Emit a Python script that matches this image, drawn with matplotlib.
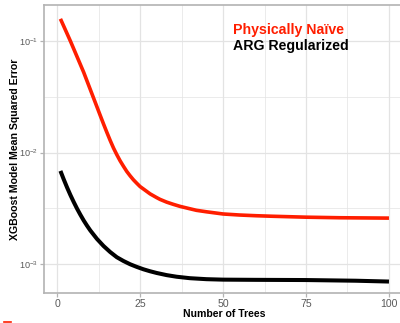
import matplotlib
matplotlib.use('Agg')
import matplotlib.pyplot as plt
from matplotlib.ticker import FixedLocator, NullFormatter
from matplotlib.lines import Line2D

# ---- data ----
naive_trees = [1, 2, 4, 6, 8, 10, 12, 13, 14, 15, 16, 17, 18, 19, 20, 21, 22, 23, 24, 25, 26, 28, 30, 31,
               33, 35, 37, 40, 42, 45, 50, 55, 60, 65, 75, 85, 100]
naive_mse = [0.1581, 0.1358, 0.1000, 0.07244, 0.05248, 0.03673, 0.02570, 0.02148, 0.01799, 0.01514,
             0.01282, 0.01096, 0.00955, 0.00841, 0.00752, 0.00676, 0.00618, 0.00569, 0.00530, 0.00495,
             0.00471, 0.00426, 0.00394, 0.00380, 0.00359, 0.00343, 0.00329, 0.00313, 0.00303, 0.00294,
             0.00281, 0.00275, 0.00271, 0.00268, 0.00263, 0.00260, 0.00258]

arg_trees = [1, 2, 3, 4, 5, 6, 7, 8, 9, 10, 12, 14, 16, 18, 20, 22, 24, 26, 28, 30, 33, 36, 40, 45,
             50, 60, 75, 90, 100]
arg_mse = [0.00684, 0.00574, 0.00486, 0.00416, 0.00360, 0.00314, 0.00277, 0.00246, 0.00221, 0.00200,
           0.00168, 0.00145, 0.00128, 0.00115, 0.001064, 0.000995, 0.000942, 0.000897, 0.000861,
           0.000831, 0.000795, 0.000769, 0.000746, 0.000731, 0.000724, 0.000721, 0.000718, 0.000708,
           0.000696]

x_ticks = [0, 25, 50, 75, 100]
x_minor = [12.5, 37.5, 62.5, 87.5]
y_ticks = [1e-3, 1e-2, 1e-1]
y_tick_labels = ['$10^{-3}$', '$10^{-2}$', '$10^{-1}$']
y_minor = [10 ** -2.5, 10 ** -1.5]

series_labels = ['Physically Naïve', 'ARG Regularized']
x_label = 'Number of Trees'
y_label = 'XGBoost Model Mean Squared Error'

# ---- style ----
plt.rcParams['font.family'] = ['Liberation Sans', 'DejaVu Sans']
plt.rcParams['mathtext.fontset'] = 'custom'
plt.rcParams['mathtext.rm'] = 'Liberation Sans'
plt.rcParams['mathtext.it'] = 'Liberation Sans:italic'
plt.rcParams['mathtext.bf'] = 'Liberation Sans:bold'

RED = '#FF1E00'
GRID = '#E3E3E3'
BORDER = '#B3B3B3'
TICKLAB = '#5A5A5A'

fig = plt.figure(figsize=(4.0, 3.23), dpi=100)
ax = fig.add_axes([0.11, 0.0929, 0.9035, 0.8916])

ax.plot(naive_trees, naive_mse, color=RED, lw=2.6, solid_capstyle='butt',
        solid_joinstyle='round', zorder=3)
ax.plot(arg_trees, arg_mse, color='black', lw=2.9, solid_capstyle='butt',
        solid_joinstyle='round', zorder=3)

ax.set_yscale('log')
ax.set_xlim(-3.95, 104.95)
ax.set_ylim(10 ** -3.26, 10 ** -0.677)

ax.xaxis.set_major_locator(FixedLocator(x_ticks))
ax.xaxis.set_minor_locator(FixedLocator(x_minor))
ax.yaxis.set_major_locator(FixedLocator(y_ticks))
ax.yaxis.set_minor_locator(FixedLocator(y_minor))
ax.set_yticklabels(y_tick_labels)
ax.xaxis.set_minor_formatter(NullFormatter())
ax.yaxis.set_minor_formatter(NullFormatter())

ax.grid(True, which='major', color=GRID, lw=0.9, zorder=0)
ax.grid(True, which='minor', color=GRID, lw=0.5, zorder=0)
ax.set_axisbelow(True)

for s in ax.spines.values():
    s.set_color(BORDER)
    s.set_linewidth(1.2)

ax.tick_params(which='major', length=3, width=0.9, color=BORDER,
               labelcolor=TICKLAB, pad=1.2)
ax.tick_params(axis='x', which='major', labelsize=7.6)
ax.tick_params(axis='y', which='major', labelsize=6.6, pad=1.5)
ax.tick_params(which='minor', length=0)

fig.text(224 / 400, 1 - 314 / 323, x_label, fontsize=7.6, fontweight='bold',
         ha='center', va='center')
fig.text(15 / 400, 1 - 149 / 323, y_label, fontsize=7.6, fontweight='bold',
         ha='center', va='center', rotation=90)

ax.text(53, 0.1167, series_labels[0], color=RED, fontsize=10.2, fontweight='bold',
        va='baseline', ha='left')
ax.text(53, 0.083, series_labels[1], color='black', fontsize=10.2, fontweight='bold',
        va='baseline', ha='left')

# small red dash at the bottom-left corner of the reference image
fig.add_artist(Line2D([4 / 400, 11 / 400], [1 - 321.5 / 323, 1 - 321.5 / 323],
                      transform=fig.transFigure, color=RED, lw=1.2))

fig.savefig('out.png', dpi=100)
